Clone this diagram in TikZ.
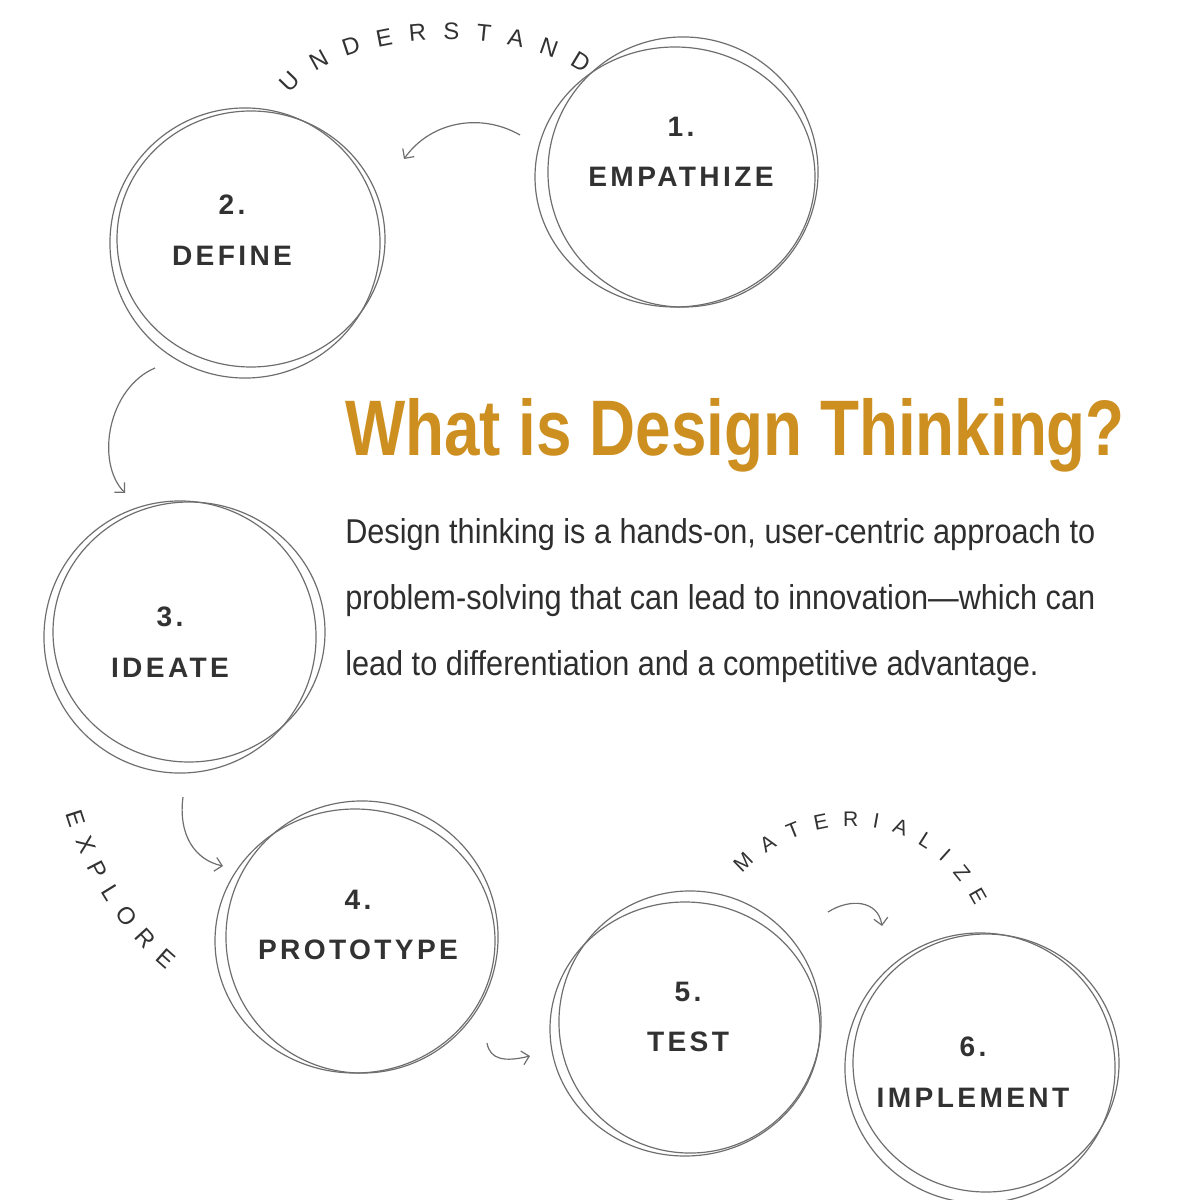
\documentclass[tikz,border=0pt]{standalone}
\usepackage{fontspec}
\setmainfont{Liberation Sans}
\newfontfamily\titlefont[FakeStretch=0.81]{Liberation Sans}
\newfontfamily\bodyfont[FakeStretch=0.89]{Liberation Sans}
\newfontfamily\handfont[LetterSpace=12]{Liberation Sans}
\usetikzlibrary{arrows.meta,decorations.text}
\definecolor{dtgold}{RGB}{204,143,32}
\definecolor{pencil}{RGB}{110,110,110}
\definecolor{ink}{RGB}{50,50,50}

\begin{document}
\begin{tikzpicture}[x=0.025cm, y=-0.025cm,
  sketch/.style={draw=pencil, line width=0.85pt},
  stage/.style={sketch, circle, inner sep=0pt},
  hand/.style={text=ink, font=\handfont\bfseries\fontsize{20}{36}\selectfont, align=center},
  flow/.style={sketch, -{Straight Barb[length=5pt, width=10pt]}},
  curvy/.style 2 args={decorate, decoration={text along path, text align={fit to path}, text color=ink,
    text={|\handfont\fontsize{#1}{#1}\selectfont|#2}}}]
  \useasboundingbox (0,0) rectangle (1200,1200);

  % Etapas
  \foreach \name/\x/\y/\d in {empathize/683/172/6.75, define/245/243/6.75, ideate/180/637/6.8,
                              prototype/362/937/6.8, test/690/1022/6.55, implement/980/1068/6.75}
    \node[stage, minimum size=\d cm] (\name) at (\x,\y) {};
  % Segundo traço (esboço)
  \foreach \name/\dx/\dy/\rx/\ry in {empathize/-8/5/140/130, define/6/-4/134/128, ideate/9/-5/136/130,
                                     prototype/-7/4/140/132, test/-5/7/135/127, implement/6/-5/133/129}
    \draw[sketch] ([shift={(\dx,\dy)}]\name.center) ellipse [x radius=\rx, y radius=\ry];

  % Rótulos
  \foreach \name/\x/\y/\num/\word in {empathize/681/152/1./EMPATHIZE, define/232/230/2./DEFINE,
                                       ideate/170/642/3./IDEATE, prototype/358/925/4./PROTOTYPE,
                                       test/688/1017/5./TEST, implement/973/1072/6./IMPLEMENT}
    \node[hand] (\name-label) at (\x,\y) {\num\\\word};

  % Setas
  \coordinate (a1) at (520,135);  \coordinate (b1) at (404,159);
  \coordinate (a2) at (155,368);  \coordinate (b2) at (125,493);
  \coordinate (a3) at (183,797);  \coordinate (b3) at (223,866);
  \coordinate (a4) at (487,1043); \coordinate (b4) at (530,1056);
  \coordinate (a5) at (828,912);  \coordinate (b5) at (882,926);
  \draw[flow] (a1) .. controls (480,112) and (430,122) .. (b1);
  \draw[flow] (a2) .. controls (108,388) and (95,462) .. (b2);
  \draw[flow] (a3) .. controls (178,835) and (195,860) .. (b3);
  \draw[flow] (a4) .. controls (490,1060) and (505,1062) .. (b4);
  \draw[flow] (a5) .. controls (850,898) and (878,900) .. (b5);

  % Palavras curvas
  \path[curvy={17}{UNDERSTAND}] (290,94) .. controls (340,30) and (510,22) .. (584,74);
  \path[curvy={17}{EXPLORE}] (66,813) .. controls (83,870) and (118,930) .. (166,970);
  \path[curvy={15}{MATERIALIZE}] (742,874) .. controls (800,810) and (920,800) .. (975,906);

  % Título e texto
  \node[anchor=base west, inner sep=0pt, text=dtgold, font=\titlefont\bfseries\fontsize{56}{60}\selectfont]
    (title) at (345,455) {What is Design Thinking?};
  \node[anchor=north west, inner sep=0pt, align=left, text=black!82,
        font=\bodyfont\fontsize{24.5}{47}\selectfont]
    (desc) at (345,518) {Design thinking is a hands-on, user-centric approach to\\
                        problem-solving that can lead to innovation—which can\\
                        lead to differentiation and a competitive advantage.};
\end{tikzpicture}
\end{document}
